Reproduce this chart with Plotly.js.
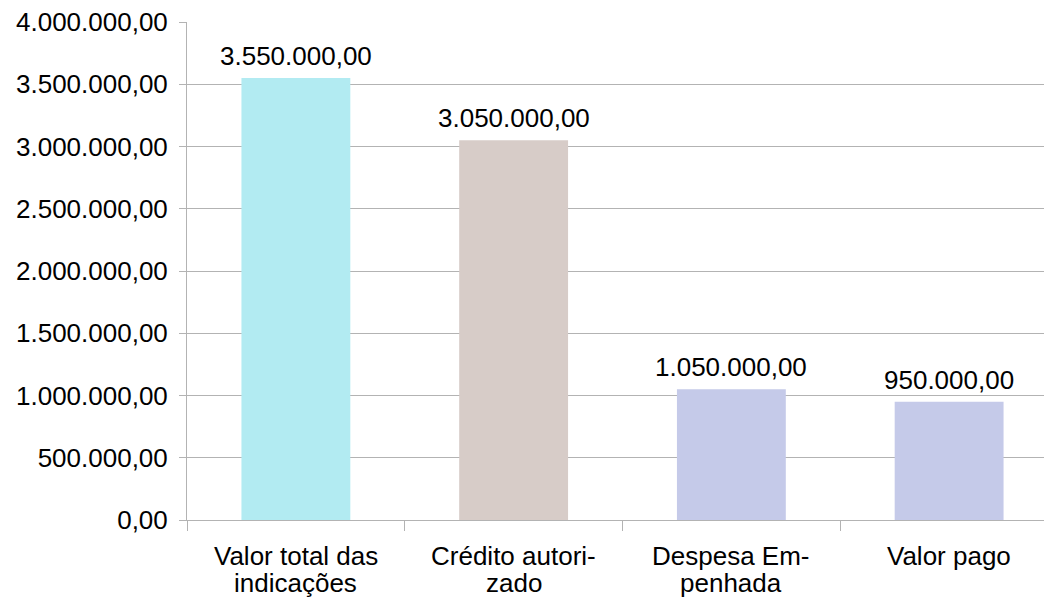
<!DOCTYPE html>
<html>
<head>
<meta charset="utf-8">
<script src="https://cdn.plot.ly/plotly-3.0.1.min.js"></script>
<style>
html,body{margin:0;padding:0;overflow:hidden;background:#fff;}
#chart{width:1060px;height:597px;}
</style>
</head>
<body>
<div id="chart"></div>
<script>
const categories = ["Valor total das indicações", "Crédito autorizado", "Despesa Empenhada", "Valor pago"];
const tickLines = [["Valor total das", "indicações"], ["Crédito autori-", "zado"], ["Despesa Em-", "penhada"], ["Valor pago"]];
const values = [3550000, 3050000, 1050000, 950000];
const barColors = ["#b2ebf2", "#d7ccc8", "#c5cae9", "#c5cae9"];

const FONT = "Liberation Sans, Arial, sans-serif";
const FS = 26;

function fmtBR(v) {
  const parts = v.toFixed(2).split(".");
  const intPart = parts[0].replace(/\B(?=(\d{3})+(?!\d))/g, ".");
  return intPart + "," + parts[1];
}

const annotations = [];
categories.forEach((c, i) => {
  tickLines[i].forEach((line, j) => {
    annotations.push({
      xref: "x", yref: "paper", x: c, y: 0,
      xanchor: "center", yanchor: "middle",
      yshift: -36 - 27 * j,
      text: line, showarrow: false,
      font: {family: FONT, size: FS, color: "#000"}
    });
  });
  annotations.push({
    xref: "x", yref: "y", x: c, y: values[i],
    xanchor: "center", yanchor: "middle",
    yshift: 22,
    text: fmtBR(values[i]), showarrow: false,
    font: {family: FONT, size: FS, color: "#000"}
  });
});

Plotly.newPlot("chart", [{
  type: "bar",
  x: categories,
  y: values,
  width: 0.5,
  marker: {color: barColors, line: {width: 0}},
  hoverinfo: "skip"
}], {
  width: 1060,
  height: 597,
  margin: {l: 187, r: 2, t: 22, b: 77},
  separators: ",.",
  paper_bgcolor: "#fff",
  plot_bgcolor: "#fff",
  showlegend: false,
  font: {family: FONT, size: FS, color: "#000"},
  annotations: annotations,
  xaxis: {
    type: "category",
    tickson: "boundaries",
    ticks: "outside",
    ticklen: 10,
    tickcolor: "#b3b3b3",
    showticklabels: false,
    showgrid: false,
    showline: true,
    linecolor: "#b3b3b3",
    linewidth: 1,
    range: [-0.5, 3.5],
    fixedrange: true
  },
  yaxis: {
    range: [0, 4000000],
    dtick: 500000,
    tick0: 0,
    tickformat: ",.2f",
    ticks: "outside",
    ticklen: 7,
    tickcolor: "#b3b3b3",
    ticklabelstandoff: 6,
    showgrid: true,
    gridcolor: "#b3b3b3",
    gridwidth: 1,
    showline: true,
    linecolor: "#b3b3b3",
    linewidth: 1,
    zeroline: false,
    tickfont: {family: FONT, size: FS, color: "#000"},
    fixedrange: true
  }
}, {displayModeBar: false, staticPlot: true});
</script>
</body>
</html>
